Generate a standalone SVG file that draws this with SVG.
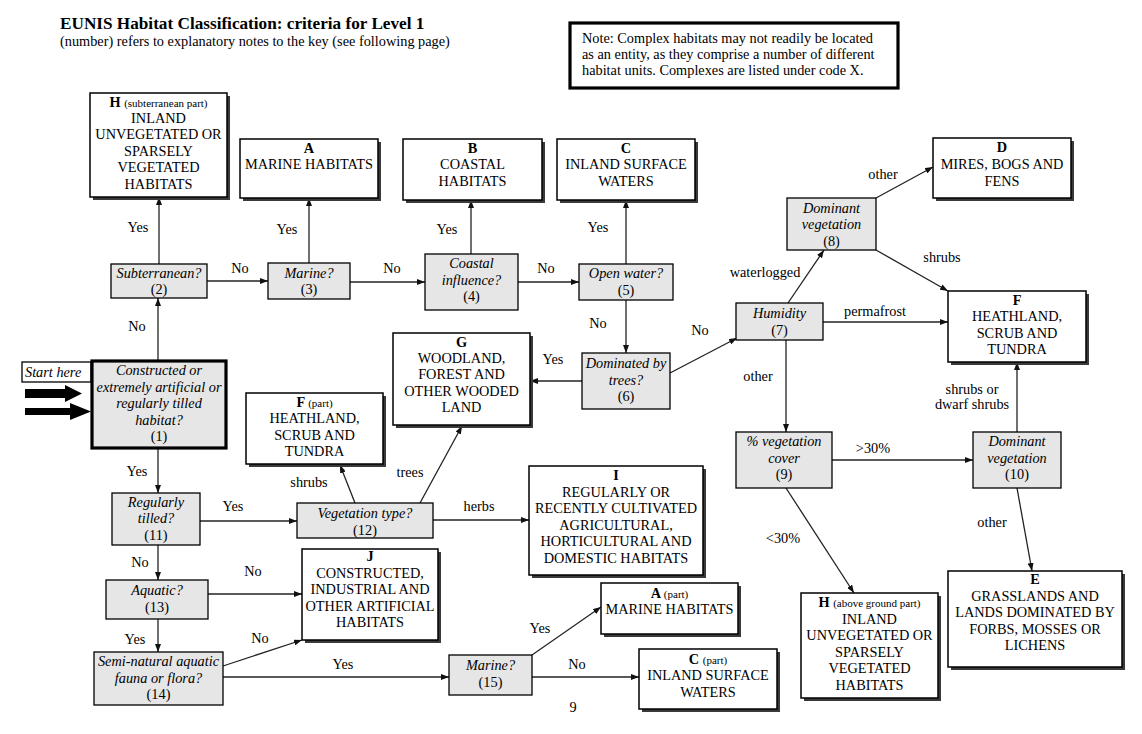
<svg xmlns="http://www.w3.org/2000/svg" width="1142" height="734" viewBox="0 0 1142 734">
<defs>
<marker id="ah" markerUnits="userSpaceOnUse" markerWidth="8" markerHeight="6" refX="8" refY="3" orient="auto">
<path d="M0,0 L8,3 L0,6 z" fill="#111"/>
</marker>
<style>
text{font-family:"Liberation Serif","Times New Roman",serif;font-size:14.3px;fill:#000}
.c{text-anchor:middle}
.i{font-style:italic}
.bd{font-weight:bold}
.sm{font-size:11px;font-weight:normal}
.r{fill:#fff;stroke:#000;stroke-width:1.5}
.q{fill:#e6e6e6;stroke:#000;stroke-width:1.3}
.sh{fill:#3a3a3a}
.thick{stroke-width:3.2}
.conn line{stroke:#222;stroke-width:1.3;marker-end:url(#ah)}
.blk{fill:#000}
</style>
</defs>
<rect width="1142" height="734" fill="#fff"/>

<g id="title">
<text x="60" y="29" class="bd" style="font-size:17.2px">EUNIS Habitat Classification: criteria for Level 1</text>
<text x="60" y="46">(number) refers to explanatory notes to the key (see following page)</text>
</g>

<g id="note">
<rect x="570" y="23" width="328" height="65" class="r thick"/>
<text x="582" y="43">Note: Complex habitats may not readily be located</text>
<text x="582" y="59">as an entity, as they comprise a number of different</text>
<text x="582" y="75">habitat units. Complexes are listed under code X.</text>
</g>

<g id="connectors" class="conn">
<line x1="158" y1="360" x2="158" y2="298"/>
<line x1="159" y1="264" x2="159" y2="197"/>
<line x1="207" y1="281" x2="268" y2="281"/>
<line x1="309" y1="263" x2="309" y2="198"/>
<line x1="350" y1="282" x2="425" y2="282"/>
<line x1="471" y1="254" x2="471" y2="200"/>
<line x1="518" y1="282" x2="579" y2="282"/>
<line x1="626" y1="264" x2="626" y2="200"/>
<line x1="626" y1="300" x2="626" y2="353"/>
<line x1="582" y1="381" x2="530" y2="381"/>
<line x1="670" y1="373" x2="737" y2="338"/>
<line x1="788" y1="303" x2="824" y2="250"/>
<line x1="876" y1="198" x2="933" y2="167"/>
<line x1="876" y1="250" x2="948" y2="291"/>
<line x1="823" y1="322" x2="948" y2="322"/>
<line x1="786" y1="340" x2="786" y2="432"/>
<line x1="832" y1="460" x2="973" y2="460"/>
<line x1="1017" y1="432" x2="1017" y2="362"/>
<line x1="1017" y1="488" x2="1032" y2="571"/>
<line x1="786" y1="488" x2="854" y2="593"/>
<line x1="158" y1="449" x2="158" y2="493"/>
<line x1="200" y1="521" x2="297" y2="521"/>
<line x1="355" y1="503" x2="340" y2="465"/>
<line x1="420" y1="503" x2="462" y2="426"/>
<line x1="433" y1="520" x2="529" y2="520"/>
<line x1="158" y1="545" x2="158" y2="580"/>
<line x1="208" y1="594" x2="302" y2="594"/>
<line x1="158" y1="619" x2="158" y2="652"/>
<line x1="223" y1="666" x2="302" y2="640"/>
<line x1="223" y1="677" x2="449" y2="677"/>
<line x1="532" y1="655" x2="601" y2="607"/>
<line x1="532" y1="677" x2="639" y2="677"/>
</g>

<g id="labels" class="c">
<text x="137" y="331">No</text>
<text x="138" y="232">Yes</text>
<text x="240" y="273">No</text>
<text x="287" y="234">Yes</text>
<text x="392" y="273">No</text>
<text x="447" y="234">Yes</text>
<text x="546" y="273">No</text>
<text x="598" y="232">Yes</text>
<text x="598" y="328">No</text>
<text x="553" y="364">Yes</text>
<text x="700" y="335">No</text>
<text x="765" y="277">waterlogged</text>
<text x="883" y="179">other</text>
<text x="942" y="262">shrubs</text>
<text x="875" y="316">permafrost</text>
<text x="758" y="381">other</text>
<text x="873" y="453">&gt;30%</text>
<text x="972" y="394">shrubs or</text>
<text x="972" y="409">dwarf shrubs</text>
<text x="992" y="527">other</text>
<text x="783" y="543">&lt;30%</text>
<text x="137" y="476">Yes</text>
<text x="233" y="511">Yes</text>
<text x="309" y="487">shrubs</text>
<text x="410" y="477">trees</text>
<text x="479" y="511">herbs</text>
<text x="140" y="567">No</text>
<text x="253" y="576">No</text>
<text x="135" y="644">Yes</text>
<text x="260" y="643">No</text>
<text x="343" y="669">Yes</text>
<text x="540" y="633">Yes</text>
<text x="577" y="669">No</text>
<text x="573" y="712">9</text>
</g>

<g id="start">
<rect x="22" y="362" width="69" height="20" class="r" style="stroke-width:1.3"/>
<text x="25" y="377" class="i">Start here</text>
<path class="blk" d="M25,389 H65 V385 L82,393.5 L65,402 V398 H25 Z"/>
<path class="blk" d="M25,408 H70 V403 L91,411.5 L70,420 V415 H25 Z"/>
</g>

<g id="n1">
<rect x="92" y="361" width="134" height="87" class="q thick"/>
<text class="c i" x="159" y="375">Constructed or</text>
<text class="c i" x="159" y="391.5">extremely artificial or</text>
<text class="c i" x="159" y="408">regularly tilled</text>
<text class="c i" x="159" y="424.5">habitat?</text>
<text class="c" x="159" y="441">(1)</text>
</g>

<g id="n2">
<rect x="111" y="264" width="96" height="34" class="q"/>
<text class="c i" x="159" y="278">Subterranean?</text>
<text class="c" x="159" y="294">(2)</text>
</g>

<g id="n3">
<rect x="268" y="263" width="82" height="36" class="q"/>
<text class="c i" x="309" y="277.5">Marine?</text>
<text class="c" x="309" y="294">(3)</text>
</g>

<g id="n4">
<rect x="425" y="254" width="93" height="56" class="q"/>
<text class="c i" x="471.5" y="268">Coastal</text>
<text class="c i" x="471.5" y="284.5">influence?</text>
<text class="c" x="471.5" y="301">(4)</text>
</g>

<g id="n5">
<rect x="579" y="264" width="94" height="36" class="q"/>
<text class="c i" x="626" y="278">Open water?</text>
<text class="c" x="626" y="294.5">(5)</text>
</g>

<g id="n6">
<rect x="582" y="353" width="88" height="56" class="q"/>
<text class="c i" x="626" y="368">Dominated by</text>
<text class="c i" x="626" y="384.5">trees?</text>
<text class="c" x="626" y="400.5">(6)</text>
</g>

<g id="n7">
<rect x="736" y="303" width="87" height="37" class="q"/>
<text class="c i" x="779.5" y="318">Humidity</text>
<text class="c" x="779.5" y="334.5">(7)</text>
</g>

<g id="n8">
<rect x="787" y="198" width="89" height="52" class="q"/>
<text class="c i" x="831.5" y="213">Dominant</text>
<text class="c i" x="831.5" y="229">vegetation</text>
<text class="c" x="831.5" y="245.5">(8)</text>
</g>

<g id="n9">
<rect x="736" y="432" width="96" height="56" class="q"/>
<text class="c i" x="784" y="446">% vegetation</text>
<text class="c i" x="784" y="462.5">cover</text>
<text class="c" x="784" y="479">(9)</text>
</g>

<g id="n10">
<rect x="973" y="432" width="88" height="56" class="q"/>
<text class="c i" x="1017" y="446">Dominant</text>
<text class="c i" x="1017" y="462.5">vegetation</text>
<text class="c" x="1017" y="479">(10)</text>
</g>

<g id="n11">
<rect x="112" y="493" width="88" height="52" class="q"/>
<text class="c i" x="156" y="507">Regularly</text>
<text class="c i" x="156" y="523">tilled?</text>
<text class="c" x="156" y="539.5">(11)</text>
</g>

<g id="n12">
<rect x="297" y="503" width="136" height="35" class="q"/>
<text class="c i" x="365" y="518">Vegetation type?</text>
<text class="c" x="365" y="534.5">(12)</text>
</g>

<g id="n13">
<rect x="106" y="580" width="102" height="39" class="q"/>
<text class="c i" x="157" y="595">Aquatic?</text>
<text class="c" x="157" y="611.5">(13)</text>
</g>

<g id="n14">
<rect x="94" y="652" width="129" height="53" class="q"/>
<text class="c i" x="158.5" y="666">Semi-natural aquatic</text>
<text class="c i" x="158.5" y="682.5">fauna or flora?</text>
<text class="c" x="158.5" y="699">(14)</text>
</g>

<g id="n15">
<rect x="449" y="655" width="83" height="40" class="q"/>
<text class="c i" x="490.5" y="670">Marine?</text>
<text class="c" x="490.5" y="686.5">(15)</text>
</g>

<g id="hsub">
<rect x="93" y="96" width="137" height="104" class="sh"/>
<rect x="90" y="93" width="137" height="104" class="r"/>
<text class="c bd" x="158.5" y="107">H <tspan class="sm">(subterranean part)</tspan></text>
<text class="c" x="158.5" y="122.5">INLAND</text>
<text class="c" x="158.5" y="139">UNVEGETATED OR</text>
<text class="c" x="158.5" y="155.5">SPARSELY</text>
<text class="c" x="158.5" y="172">VEGETATED</text>
<text class="c" x="158.5" y="188.5">HABITATS</text>
</g>

<g id="a">
<rect x="243" y="142" width="138" height="59" class="sh"/>
<rect x="240" y="139" width="138" height="59" class="r"/>
<text class="c bd" x="309" y="152.5">A</text>
<text class="c" x="309" y="169">MARINE HABITATS</text>
</g>

<g id="b">
<rect x="406" y="142" width="139" height="61" class="sh"/>
<rect x="403" y="139" width="139" height="61" class="r"/>
<text class="c bd" x="472.5" y="152.5">B</text>
<text class="c" x="472.5" y="169">COASTAL</text>
<text class="c" x="472.5" y="185.5">HABITATS</text>
</g>

<g id="c">
<rect x="560" y="142" width="138" height="61" class="sh"/>
<rect x="557" y="139" width="138" height="61" class="r"/>
<text class="c bd" x="626" y="152.5">C</text>
<text class="c" x="626" y="169">INLAND SURFACE</text>
<text class="c" x="626" y="185.5">WATERS</text>
</g>

<g id="d">
<rect x="936" y="141" width="138" height="60" class="sh"/>
<rect x="933" y="138" width="138" height="60" class="r"/>
<text class="c bd" x="1002" y="151.5">D</text>
<text class="c" x="1002" y="168.5">MIRES, BOGS AND</text>
<text class="c" x="1002" y="185.5">FENS</text>
</g>

<g id="f">
<rect x="951" y="294" width="138" height="71" class="sh"/>
<rect x="948" y="291" width="138" height="71" class="r"/>
<text class="c bd" x="1017" y="305">F</text>
<text class="c" x="1017" y="321">HEATHLAND,</text>
<text class="c" x="1017" y="337.5">SCRUB AND</text>
<text class="c" x="1017" y="354">TUNDRA</text>
</g>

<g id="g">
<rect x="396" y="336" width="137" height="92" class="sh"/>
<rect x="393" y="333" width="137" height="92" class="r"/>
<text class="c bd" x="461.5" y="347">G</text>
<text class="c" x="461.5" y="363">WOODLAND,</text>
<text class="c" x="461.5" y="379">FOREST AND</text>
<text class="c" x="461.5" y="395.5">OTHER WOODED</text>
<text class="c" x="461.5" y="411.5">LAND</text>
</g>

<g id="fpart">
<rect x="249" y="396" width="137" height="71" class="sh"/>
<rect x="246" y="393" width="137" height="71" class="r"/>
<text class="c bd" x="314.5" y="406.5">F <tspan class="sm">(part)</tspan></text>
<text class="c" x="314.5" y="423">HEATHLAND,</text>
<text class="c" x="314.5" y="439.5">SCRUB AND</text>
<text class="c" x="314.5" y="456">TUNDRA</text>
</g>

<g id="i">
<rect x="532" y="469" width="174" height="109" class="sh"/>
<rect x="529" y="466" width="174" height="109" class="r"/>
<text class="c bd" x="616" y="480">I</text>
<text class="c" x="616" y="496.5">REGULARLY OR</text>
<text class="c" x="616" y="513">RECENTLY CULTIVATED</text>
<text class="c" x="616" y="529.5">AGRICULTURAL,</text>
<text class="c" x="616" y="546">HORTICULTURAL AND</text>
<text class="c" x="616" y="562.5">DOMESTIC HABITATS</text>
</g>

<g id="j">
<rect x="305" y="552" width="136" height="91" class="sh"/>
<rect x="302" y="549" width="136" height="91" class="r"/>
<text class="c bd" x="370" y="561">J</text>
<text class="c" x="370" y="577.5">CONSTRUCTED,</text>
<text class="c" x="370" y="594">INDUSTRIAL AND</text>
<text class="c" x="370" y="610.5">OTHER ARTIFICIAL</text>
<text class="c" x="370" y="627">HABITATS</text>
</g>

<g id="apart">
<rect x="604" y="586" width="137" height="51" class="sh"/>
<rect x="601" y="583" width="137" height="51" class="r"/>
<text class="c bd" x="669.5" y="598">A <tspan class="sm">(part)</tspan></text>
<text class="c" x="669.5" y="614">MARINE HABITATS</text>
</g>

<g id="cpart">
<rect x="642" y="652" width="138" height="60" class="sh"/>
<rect x="639" y="649" width="138" height="60" class="r"/>
<text class="c bd" x="708" y="664">C <tspan class="sm">(part)</tspan></text>
<text class="c" x="708" y="680">INLAND SURFACE</text>
<text class="c" x="708" y="696.5">WATERS</text>
</g>

<g id="e">
<rect x="951" y="574" width="174" height="96" class="sh"/>
<rect x="948" y="571" width="174" height="96" class="r"/>
<text class="c bd" x="1035" y="584">E</text>
<text class="c" x="1035" y="600.5">GRASSLANDS AND</text>
<text class="c" x="1035" y="617">LANDS DOMINATED BY</text>
<text class="c" x="1035" y="633.5">FORBS, MOSSES OR</text>
<text class="c" x="1035" y="650">LICHENS</text>
</g>

<g id="habove">
<rect x="804" y="596" width="137" height="105" class="sh"/>
<rect x="801" y="593" width="137" height="105" class="r"/>
<text class="c bd" x="869.5" y="607">H <tspan class="sm">(above ground part)</tspan></text>
<text class="c" x="869.5" y="623.5">INLAND</text>
<text class="c" x="869.5" y="640">UNVEGETATED OR</text>
<text class="c" x="869.5" y="656.5">SPARSELY</text>
<text class="c" x="869.5" y="673">VEGETATED</text>
<text class="c" x="869.5" y="689.5">HABITATS</text>
</g>
</svg>
